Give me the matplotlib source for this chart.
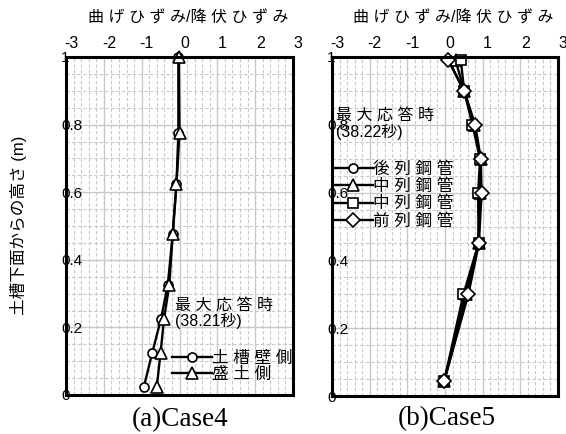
import numpy as np
import matplotlib
matplotlib.use('Agg')
import matplotlib.pyplot as plt
import matplotlib.transforms as mtransforms
from matplotlib.ticker import MultipleLocator

plt.rcParams['font.family'] = ['Liberation Sans', 'Noto Sans CJK JP', 'DejaVu Sans']

# Case4: 高さ (m) と 曲げひずみ/降伏ひずみ
h4 = [1.0, 0.775, 0.625, 0.475, 0.325, 0.225, 0.125, 0.025]
kabe4 = [-0.03, -0.03, -0.08, -0.18, -0.31, -0.49, -0.72, -0.94]   # 土槽壁側
mori4 = [-0.02, 0.0, -0.08, -0.18, -0.27, -0.41, -0.50, -0.60]     # 盛土側

# Case5
h5 = [0.99, 0.9, 0.8, 0.7, 0.6, 0.45, 0.3, 0.045]
ushiro5 = [0.10, 0.50, 0.78, 0.94, 0.95, 0.88, 0.58, -0.02]   # 後列鋼管
naka5a = [0.28, 0.51, 0.76, 0.95, 0.93, 0.89, 0.55, -0.02]    # 中列鋼管 (△)
naka5b = [0.42, 0.51, 0.73, 0.93, 0.88, 0.89, 0.49, -0.02]    # 中列鋼管 (□)
mae5 = [0.09, 0.51, 0.80, 0.95, 0.97, 0.90, 0.62, -0.02]      # 前列鋼管

xticks = [-3, -2, -1, 0, 1, 2, 3]
yticks = [0, 0.2, 0.4, 0.6, 0.8, 1]
ytlabels = ['0', '0.2', '0.4', '0.6', '0.8', '1']

W, H = 566, 434
fig = plt.figure(figsize=(W / 100, H / 100), dpi=100)

jp = ['Liberation Sans', 'Noto Sans CJK JP']


def sp(s):
    # 文字間を少し空ける
    return ' '.join(s)


def setup(ax):
    ax.set_xlim(-3, 3)
    ax.set_ylim(0, 1)
    ax.xaxis.set_minor_locator(MultipleLocator(0.2))
    ax.yaxis.set_minor_locator(MultipleLocator(0.05))
    ax.grid(which='major', color='#c8c8c8', lw=1.0, ls='-')
    ax.grid(which='minor', color='#c8c8c8', lw=0.8, ls=(0, (3, 2)))
    ax.set_axisbelow(True)
    ax.xaxis.tick_top()
    ax.set_xticks(xticks)
    ax.set_xticklabels([str(v) for v in xticks])
    ax.set_yticks(yticks)
    ax.set_yticklabels(ytlabels)
    ax.tick_params(which='both', length=0)
    ax.tick_params(axis='x', labelsize=11.5, pad=4)
    ax.tick_params(axis='y', labelsize=11, pad=3.5)
    off = mtransforms.ScaledTranslation(5 / 100, 0, fig.dpi_scale_trans)
    for t in ax.get_xticklabels():
        t.set_transform(t.get_transform() + off)
    for t in ax.get_yticklabels():
        t.set_horizontalalignment('left')
    for s in ax.spines.values():
        s.set_linewidth(2.2)
        s.set_color('black')


mk = dict(mfc='white', mec='black', mew=1.2, color='black', lw=1.7, clip_on=False)

# (a) Case4
ax1 = fig.add_axes([66 / W, 1 - 395 / H, 227 / W, 338 / H])
setup(ax1)
ax1.plot(kabe4, h4, marker='o', ms=6.5, label=sp('土槽壁側'), **mk)
ax1.plot(mori4, h4, marker='^', ms=8, label=sp('盛土側'), **mk)
ax1.text(-0.13, 0.288, sp('最大応答時') + '\n(38.21秒)', fontsize=11.5,
         family=jp, va='top', ha='left', linespacing=1.05)
leg1 = ax1.legend(loc='upper left', bbox_to_anchor=(0.467, 0.13), frameon=False,
                  prop={'family': jp, 'size': 12}, handlelength=2.4,
                  handletextpad=0.0, labelspacing=0.06, borderpad=0, borderaxespad=0)

# (b) Case5
ax2 = fig.add_axes([332 / W, 1 - 396 / H, 226 / W, 339 / H])
setup(ax2)
ax2.plot(ushiro5, h5, marker='o', ms=6.5, label=sp('後列鋼管'), **mk)
ax2.plot(naka5a, h5, marker='^', ms=8, label=sp('中列鋼管'), **mk)
ax2.plot(naka5b, h5, marker='s', ms=6.5, label=sp('中列鋼管'), **mk)
ax2.plot(mae5, h5, marker='D', ms=7, label=sp('前列鋼管'), **mk)
ax2.text(-2.9, 0.85, sp('最大応答時') + '\n(38.22秒)', fontsize=11.5,
         family=jp, va='top', ha='left', linespacing=1.05)
leg2 = ax2.legend(loc='upper left', bbox_to_anchor=(0.004, 0.693), frameon=False,
                  prop={'family': jp, 'size': 12}, handlelength=2.4,
                  handletextpad=0.0, labelspacing=0.12, borderpad=0, borderaxespad=0)

# 軸タイトル
fig.text(188 / W, 1 - 18 / H, sp('曲げひずみ') + '/' + sp('降伏ひずみ'), fontsize=11.5,
         family=jp, ha='center', va='center')
fig.text(453 / W, 1 - 18 / H, sp('曲げひずみ') + '/' + sp('降伏ひずみ'), fontsize=11.5,
         family=jp, ha='center', va='center')
fig.text(19 / W, 1 - 225 / H, '土槽下面からの高さ (m)', fontsize=12,
         family=jp, rotation=90, ha='center', va='center')

# キャプション
fig.text(180 / W, 1 - 420 / H, '(a)Case4', fontsize=19.5, family='Liberation Serif',
         ha='center', va='center')
fig.text(447 / W, 1 - 419 / H, '(b)Case5', fontsize=19.5, family='Liberation Serif',
         ha='center', va='center')

fig.savefig('out.png', dpi=100)
